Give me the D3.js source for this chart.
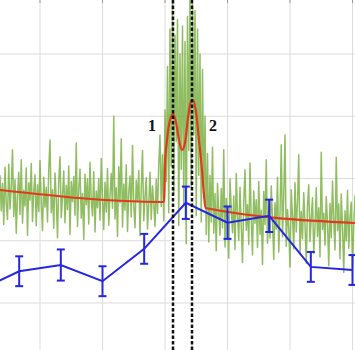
<!DOCTYPE html>
<html>
<head>
<meta charset="utf-8">
<script src="https://cdn.jsdelivr.net/npm/d3@7"></script>
<style>
  html, body { margin: 0; padding: 0; background: #fff; }
  svg { display: block; }
  .grid line { stroke: #dcdcdc; stroke-width: 1; }
  .peak-label { font-family: "Liberation Serif", serif; font-weight: bold; font-size: 16px; fill: #111; }
</style>
</head>
<body>
<div id="chart"></div>
<script>
// measured signal, evenly sampled
const signalStart = 3.6;
const signalStep = 0.2;
const signal = [
  20.5, 14.8, 19.2, 12.6, 21.8, 16.0, 13.4, 22.3, 15.1, 18.7,
  24.6, 13.9, 19.8, 11.2, 17.4, 21.0, 14.2, 23.0, 12.8, 18.1,
  15.6, 21.7, 10.9, 19.3, 16.5, 22.4, 13.1, 17.9, 20.6, 12.4,
  19.0, 14.7, 22.9, 16.2, 11.6, 20.2, 15.4, 18.6, 13.0, 21.4,
  26.2, 14.5, 18.2, 12.0, 20.9, 16.8, 10.5, 19.6, 23.5, 13.7,
  17.1, 21.2, 12.9, 18.9, 15.0, 22.0, 11.0, 19.5, 16.3, 20.3,
  14.1, 25.7, 12.3, 18.4, 21.5, 13.6, 17.6, 10.2, 20.7, 15.8,
  19.9, 12.7, 22.6, 16.6, 14.0, 21.1, 11.4, 18.0, 15.3, 20.0,
  13.3, 23.2, 16.9, 11.8, 19.4, 14.6, 21.6, 12.5, 17.3, 20.8,
  15.2, 30.0, 13.5, 18.5, 10.7, 21.9, 16.1, 26.4, 12.2, 19.1,
  14.9, 22.2, 11.5, 17.7, 20.4, 13.8, 25.3, 15.7, 12.1, 19.7,
  16.4, 21.3, 10.8, 18.3, 24.5, 13.2, 17.0, 20.1, 11.9, 15.9,
  21.0, 13.4, 18.8, 16.0, 12.3, 19.9, 14.4, 22.1, 27.0,
  // peak region
  15.5, 23.8, 13.2, 31.0, 19.5, 38.0, 14.5, 44.0, 22.0, 49.0,
  17.5, 43.0, 26.0, 45.5, 12.5, 40.0, 21.5, 44.5, 16.0, 42.0,
  9.5, 46.0, 24.5, 49.5, 18.5, 48.0, 27.0, 47.0, 14.0, 44.0,
  20.5, 40.0, 13.0, 37.5, 17.0, 30.0, 11.0, 24.0,
  // right of the peaks
  9.8, 20.5, 13.0, 25.0, 11.2, 17.6, 8.4, 19.2, 14.6, 10.9,
  18.4, 12.1, 24.6, 9.0, 16.8, 13.7, 7.2, 19.9, 15.1, 11.3,
  17.2, 8.6, 20.8, 14.0, 10.1, 18.6, 12.4, 6.5, 16.3, 21.4,
  11.7, 15.8, 9.4, 22.5, 13.5, 7.7, 18.0, 12.8, 16.6, 8.9,
  19.5, 11.0, 14.9, 6.2, 17.9, 12.6, 23.0, 9.6, 15.5, 10.4,
  18.8, 13.3, 7.0, 16.1, 11.9, 20.2, 8.2, 14.3, 25.4, 10.6,
  17.4, 27.0, 9.1, 15.0, 12.0, 5.8, 18.2, 13.9, 8.7, 19.3,
  11.4, 16.4, 23.8, 7.9, 14.7, 10.3, 17.7, 12.7, 6.4, 15.6,
  19.0, 9.9, 13.6, 16.9, 8.0, 12.2, 18.5, 10.7, 15.3, 7.4,
  24.2, 11.8, 14.4, 9.3, 17.1, 12.9, 6.0, 16.0, 10.5, 19.6,
  13.1, 8.5, 23.4, 11.6, 15.9, 7.1, 17.5, 12.3, 4.9, 14.8,
  10.0, 18.1, 8.8, 13.8, 16.2, 5.5, 12.5, 17.3
];

// fitted curve (baseline + two peaks)
const fitX = [3.6, 29.84, 29.92, 30.0, 30.32, 30.8, 31.28, 31.76, 32.24, 32.72,
  33.2, 33.68, 34.16, 34.48, 34.96, 35.44, 35.92, 36.24, 36.48, 60.4];
const fitY = [18.15, 16.22, 18.15, 22.17, 26.18, 29.4, 30.36, 29.08, 26.18, 24.58,
  25.7, 29.72, 32.45, 32.61, 30.68, 26.18, 21.37, 17.35, 15.26, 12.85];

// binned averages with error
const binX = [0, 6.67, 13.33, 20, 26.67, 33.33, 40, 46.67, 53.33, 60];
const binY = [1.9, 5.1, 6.1, 3.5, 8.7, 16.1, 12.9, 14.0, 5.8, 5.3];
const binErr = [2.4, 2.4, 2.5, 2.4, 2.4, 2.6, 2.6, 2.6, 2.4, 2.4];

// peak positions and labels
const peakPos = [31.28, 34.32];
const peakNames = ["1", "2"];

const xTicks = [10, 20, 30, 40, 50, 60];
const yTicks = [0, 10, 20, 30, 40];

const width = 355, height = 350;

const x = d3.scaleLinear().domain([3.6, 60.4]).range([0, width]);
const y = d3.scaleLinear().domain([-7.55, 48.67]).range([height, 0]);

const svg = d3.select("#chart").append("svg")
  .attr("width", width)
  .attr("height", height);

svg.append("defs").append("clipPath").attr("id", "clip")
  .append("rect").attr("width", width).attr("height", height);

// grid
const grid = svg.append("g").attr("class", "grid");
grid.selectAll(".vx").data(xTicks).enter().append("line")
  .attr("x1", d => x(d)).attr("x2", d => x(d))
  .attr("y1", 0).attr("y2", height);
grid.selectAll(".hy").data(yTicks).enter().append("line")
  .attr("x1", 0).attr("x2", width)
  .attr("y1", d => y(d)).attr("y2", d => y(d));

// small ticks along the top edge
svg.append("g").selectAll("line").data(xTicks).enter().append("line")
  .attr("x1", d => x(d)).attr("x2", d => x(d))
  .attr("y1", 0).attr("y2", 3)
  .attr("stroke", "#999").attr("stroke-width", 1);

const plot = svg.append("g").attr("clip-path", "url(#clip)");

// noisy signal
plot.append("path")
  .datum(signal)
  .attr("fill", "none")
  .attr("stroke", "#74ad3a")
  .attr("stroke-width", 1.5)
  .attr("stroke-opacity", 0.8)
  .attr("stroke-linejoin", "round")
  .attr("d", d3.line()
    .x((d, i) => x(signalStart + i * signalStep))
    .y(d => y(d)));

// fit
const fit = fitX.map((v, i) => [v, fitY[i]]);
plot.append("path")
  .datum(fit)
  .attr("fill", "none")
  .attr("stroke", "#e2391c")
  .attr("stroke-width", 2.2)
  .attr("d", d3.line()
    .curve(d3.curveMonotoneX)
    .x(d => x(d[0]))
    .y(d => y(d[1])));

// binned line with error bars
const bins = binX.map((v, i) => ({ x: v, y: binY[i], e: binErr[i] }));
plot.append("path")
  .datum(bins)
  .attr("fill", "none")
  .attr("stroke", "#2626e0")
  .attr("stroke-width", 2)
  .attr("d", d3.line().x(d => x(d.x)).y(d => y(d.y)));

const bars = plot.append("g")
  .attr("stroke", "#2626e0")
  .attr("stroke-width", 2);
bars.selectAll(".eb").data(bins).enter().append("line")
  .attr("x1", d => x(d.x)).attr("x2", d => x(d.x))
  .attr("y1", d => y(d.y - d.e)).attr("y2", d => y(d.y + d.e));
bars.selectAll(".ct").data(bins).enter().append("line")
  .attr("x1", d => x(d.x) - 4).attr("x2", d => x(d.x) + 4)
  .attr("y1", d => y(d.y + d.e)).attr("y2", d => y(d.y + d.e));
bars.selectAll(".cb").data(bins).enter().append("line")
  .attr("x1", d => x(d.x) - 4).attr("x2", d => x(d.x) + 4)
  .attr("y1", d => y(d.y - d.e)).attr("y2", d => y(d.y - d.e));

// dashed markers at peak centres
plot.selectAll(".peak").data(peakPos).enter().append("line")
  .attr("x1", d => x(d)).attr("x2", d => x(d))
  .attr("y1", 0).attr("y2", height)
  .attr("stroke", "#111")
  .attr("stroke-width", 2.5)
  .attr("stroke-dasharray", "3.5,2");

svg.selectAll(".peak-label").data(peakPos).enter().append("text")
  .attr("class", "peak-label")
  .attr("text-anchor", "middle")
  .attr("x", (d, i) => x(d) + (i === 0 ? -21 : 21))
  .attr("y", y(27.6))
  .text((d, i) => peakNames[i]);
</script>
</body>
</html>
